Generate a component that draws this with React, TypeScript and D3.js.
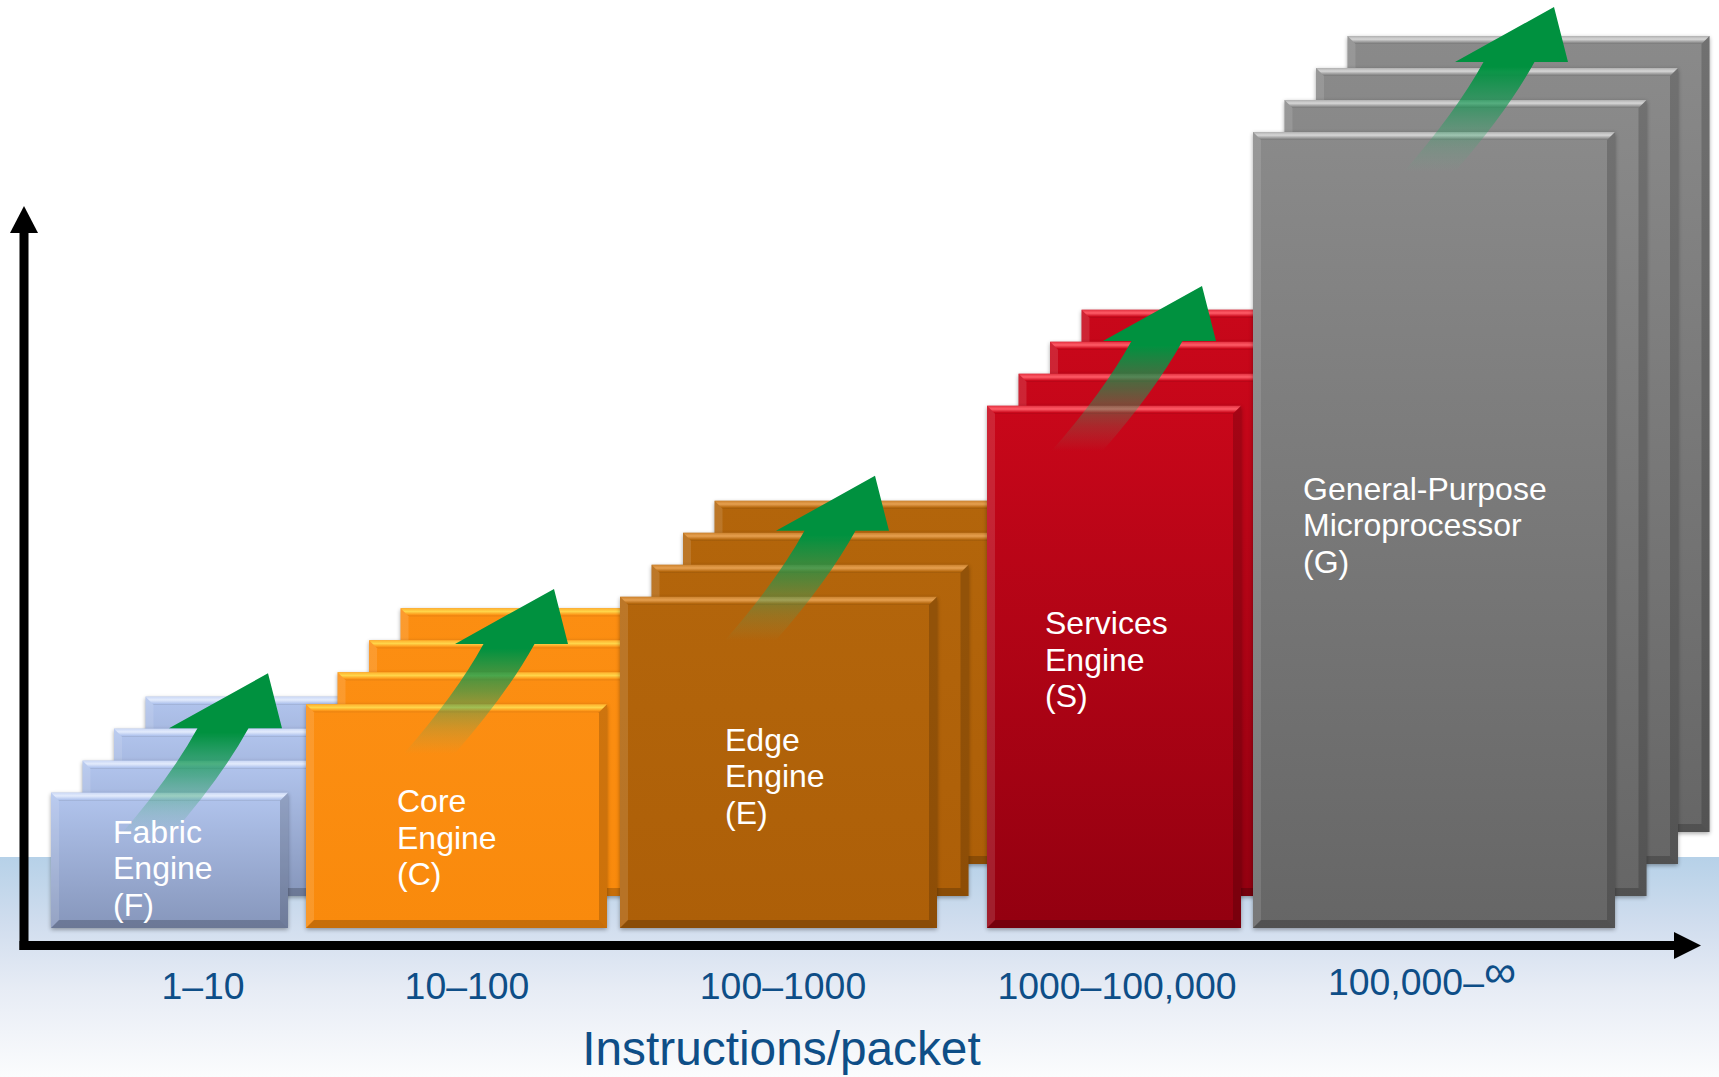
import React from "react";
import * as d3 from "d3";

// ---------- data ----------
const engineNames = ["Fabric", "Core", "Edge", "Services", "General-Purpose"];
const engineLine2 = ["Engine", "Engine", "Engine", "Engine", "Microprocessor"];
const engineCodes = ["(F)", "(C)", "(E)", "(S)", "(G)"];
const rangeLabels = ["1–10", "10–100", "100–1000", "1000–100,000", "100,000–∞"];
const axisTitle = "Instructions/packet";

// relative processing capability of each engine (card height, 0–100)
const cardHeight = [17.0, 28.1, 41.6, 65.6, 100];
// horizontal extent of each front card (layout units)
const cardStart = [51, 306, 620, 987, 1253];
const cardEnd = [288, 607, 937, 1241, 1615];
// label anchors (layout units / value units)
const labelX = [113, 397, 725, 1045, 1303];
const labelValue = [10.68, 14.57, 22.24, 36.93, 53.77];
// green growth arrow tips
const arrowTipX = [268, 554, 875, 1202, 1554];
const arrowTipValue = [32.0, 42.6, 56.8, 80.65, 115.7];
// category tick positions
const tickX = [203, 467, 783, 1117, 1422];

const colTop = ["#b2c5ee", "#fc8e12", "#b3650b", "#c9071a", "#8a8a8a"];
const colBottom = ["#8696bb", "#f98a0c", "#ad5f08", "#930010", "#666666"];
const colHi = ["#e3ebfc", "#ffd54a", "#e6a050", "#ff5c68", "#d6d6d6"];

const W = 1719;
const H = 1077;
const LAYERS = 4;
const DX = 31.5;
const DY = 32;
const BEV = 8;

export default function App() {
  React.useEffect(() => {
    document.body.style.margin = "0";
    document.body.style.overflow = "hidden";
  }, []);

  const x = d3.scaleLinear().domain([0, W]).range([0, W]);
  const y = d3.scaleLinear().domain([0, 100]).range([928, 132]);

  const font = 'Arial, "Liberation Sans", sans-serif';
  const textBlue = "#0e4e87";

  const arrowPath =
    "M 0 0 L 14 55 L -19.5 55 Q -47 105 -99.5 165 L -150.5 165 Q -98 105 -70.5 55 L -99 55 Z";

  const card = (i: number, k: number) => {
    const x0 = x(cardStart[i]) + k * DX;
    const x1 = x(cardEnd[i]) + k * DX;
    const y0 = y(cardHeight[i]) - k * DY;
    const y1 = y(0) - k * DY;
    const w = x1 - x0;
    const h = y1 - y0;
    const b = BEV;
    const pts = (a: number[][]) => a.map((p) => p.join(",")).join(" ");
    return (
      <g key={`c${i}-${k}`}>
        <rect x={x0} y={y0} width={w} height={h} fill="#000" opacity={0.35} filter="url(#soft)" transform="translate(0,1.5)" />
        <rect x={x0} y={y0} width={w} height={h} fill={`url(#body${i})`} />
        <polygon
          points={pts([[x0, y0], [x1, y0], [x1 - b, y0 + b], [x0 + b, y0 + b]])}
          fill={`url(#bev${i})`}
        />
        <polygon
          points={pts([[x0, y0], [x0 + b, y0 + b], [x0 + b, y1 - b], [x0, y1]])}
          fill="#ffffff"
          opacity={0.12}
        />
        <polygon
          points={pts([[x1, y0], [x1, y1], [x1 - b, y1 - b], [x1 - b, y0 + b]])}
          fill="#000"
          opacity={0.18}
        />
        <polygon
          points={pts([[x0, y1], [x1, y1], [x1 - b, y1 - b], [x0 + b, y1 - b]])}
          fill="#000"
          opacity={0.2}
        />
      </g>
    );
  };

  return (
    <svg width={W} height={H} style={{ display: "block", position: "absolute", left: 0, top: 0 }}>
      <defs>
        <linearGradient id="band" x1="0" y1="0" x2="0" y2="1">
          <stop offset="0" stopColor="#b6d1e8" />
          <stop offset="0.3" stopColor="#d0ddee" />
          <stop offset="0.6" stopColor="#e7ecf5" />
          <stop offset="1" stopColor="#fbfcfd" />
        </linearGradient>
        <linearGradient id="arrowGrad" x1="0" y1="0" x2="0" y2="1">
          <stop offset="0" stopColor="#00913f" stopOpacity={1} />
          <stop offset="0.36" stopColor="#00913f" stopOpacity={1} />
          <stop offset="0.62" stopColor="#159a55" stopOpacity={0.6} />
          <stop offset="0.85" stopColor="#3aa870" stopOpacity={0.2} />
          <stop offset="1" stopColor="#5ab888" stopOpacity={0} />
        </linearGradient>
        <filter id="soft" x="-10%" y="-10%" width="120%" height="120%">
          <feGaussianBlur stdDeviation="2" />
        </filter>
        {engineNames.map((_, i) => (
          <React.Fragment key={`g${i}`}>
            <linearGradient id={`body${i}`} x1="0" y1="0" x2="0" y2="1">
              <stop offset="0" stopColor={colTop[i]} />
              <stop offset="1" stopColor={colBottom[i]} />
            </linearGradient>
            <linearGradient id={`bev${i}`} x1="0" y1="0" x2="0" y2="1">
              <stop offset="0" stopColor={d3.interpolateRgb(colTop[i], colHi[i])(0.5)} />
              <stop offset="0.4" stopColor={colHi[i]} />
              <stop offset="0.85" stopColor={colTop[i]} />
              <stop offset="1" stopColor={d3.color(colTop[i])!.darker(0.4).formatHex()} />
            </linearGradient>
          </React.Fragment>
        ))}
      </defs>

      <rect x={0} y={0} width={W} height={H} fill="#ffffff" />
      <rect x={0} y={857} width={W} height={H - 857} fill="url(#band)" />

      {engineNames.map((name, i) => (
        <g key={`e${i}`}>
          {d3.range(LAYERS - 1, -1, -1).map((k) => card(i, k))}
          <path d={arrowPath} transform={`translate(${x(arrowTipX[i])},${y(arrowTipValue[i])})`} fill="url(#arrowGrad)" />
          <text x={x(labelX[i])} y={y(labelValue[i])} fill="#ffffff" fontFamily={font} fontSize={32}>
            <tspan x={x(labelX[i])}>{name}</tspan>
            <tspan x={x(labelX[i])} dy={36.5}>{engineLine2[i]}</tspan>
            <tspan x={x(labelX[i])} dy={36.5}>{engineCodes[i]}</tspan>
          </text>
        </g>
      ))}

      {/* axes */}
      <line x1={24} y1={950} x2={24} y2={228} stroke="#000" strokeWidth={9} />
      <polygon points="24,206 10,233 38,233" fill="#000" />
      <line x1={19.5} y1={945.5} x2={1678} y2={945.5} stroke="#000" strokeWidth={9} />
      <polygon points="1701,945.5 1674,932 1674,959" fill="#000" />

      {rangeLabels.map((lab, i) => {
        const inf = lab.endsWith("∞");
        return (
          <text
            key={`t${i}`}
            x={x(tickX[i])}
            y={inf ? 995 : 999}
            textAnchor="middle"
            fill={textBlue}
            fontFamily={font}
            fontSize={37.4}
          >
            {inf ? (
              <>
                {lab.slice(0, -1)}
                <tspan dy={-8} fontSize={45}>∞</tspan>
              </>
            ) : (
              lab
            )}
          </text>
        );
      })}

      <text x={781.5} y={1065} textAnchor="middle" fill={textBlue} fontFamily={font} fontSize={47.8}>
        {axisTitle}
      </text>
    </svg>
  );
}
